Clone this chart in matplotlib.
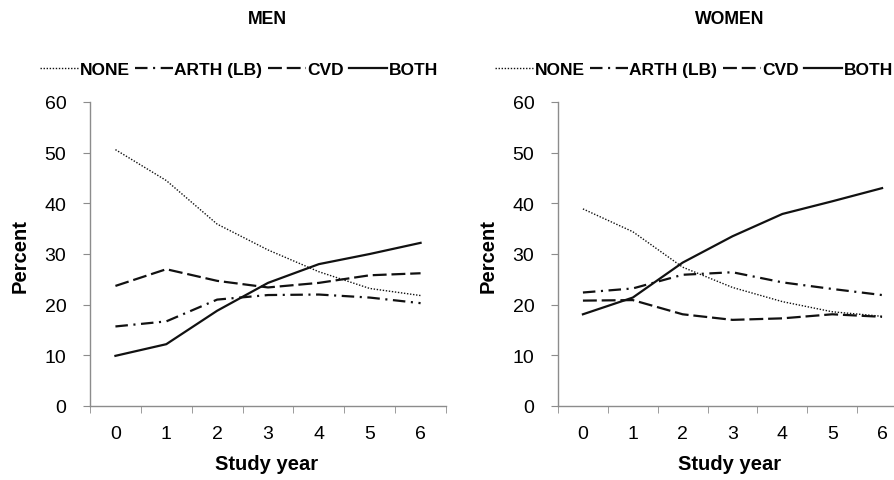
import numpy as np
import matplotlib
matplotlib.use("Agg")
import matplotlib.pyplot as plt

plt.rcParams['font.family'] = ['Liberation Sans', 'DejaVu Sans']
plt.rcParams['lines.scale_dashes'] = False

years = [0, 1, 2, 3, 4, 5, 6]
series_names = ["NONE", "ARTH (LB)", "CVD", "BOTH"]

men_none = [50.6, 44.5, 35.9, 30.8, 26.5, 23.2, 21.8]
men_arth = [15.7, 16.7, 21.0, 21.9, 22.0, 21.4, 20.3]
men_cvd = [23.7, 27.0, 24.7, 23.4, 24.3, 25.8, 26.2]
men_both = [9.9, 12.2, 18.8, 24.3, 28.0, 30.0, 32.2]

women_none = [38.9, 34.4, 27.4, 23.4, 20.6, 18.6, 17.7]
women_arth = [22.4, 23.2, 25.9, 26.4, 24.4, 23.1, 21.9]
women_cvd = [20.8, 20.9, 18.1, 17.0, 17.3, 18.1, 17.6]
women_both = [18.1, 21.4, 28.3, 33.5, 37.9, 40.4, 43.0]

styles = [
    dict(linestyle=(0, (1.0, 1.2)), linewidth=1.0),
    dict(linestyle=(0, (9, 4, 1.5, 4)), linewidth=1.6),
    dict(linestyle=(0, (10, 3.5)), linewidth=1.6),
    dict(linestyle='-', linewidth=1.6),
]
line_color = '#111111'
axis_gray = '#8c8c8c'

fig = plt.figure(figsize=(8.95, 4.81), dpi=100)
W, H = 895.0, 481.0
ax_men = fig.add_axes([90 / W, (H - 407) / H, 356 / W, 304 / H])
ax_women = fig.add_axes([558 / W, (H - 407) / H, 349 / W, 304 / H])

panels = [
    (ax_men, "MEN", [men_none, men_arth, men_cvd, men_both], 239, 267),
    (ax_women, "WOMEN", [women_none, women_arth, women_cvd, women_both], 694, 730),
]

for ax, title, data, leg_x, lab_x in panels:
    handles = []
    for vals, st, name in zip(data, styles, series_names):
        h, = ax.plot(years, vals, color=line_color, label=name, **st)
        handles.append(h)
    ax.set_xlim(-0.5, 6.5)
    ax.set_ylim(0, 60)
    ax.set_yticks(range(0, 61, 10))
    # category labels at centres, tick marks at category boundaries
    ax.set_xticks(years)
    ax.set_xticklabels([str(y) for y in years])
    ax.set_xticks(np.arange(-0.5, 7, 1.0), minor=True)
    ax.tick_params(axis='x', which='major', length=0, pad=14, labelsize=14)
    ax.tick_params(axis='x', which='minor', length=5, color=axis_gray, direction='out')
    ax.tick_params(axis='y', length=5, color=axis_gray, pad=12, labelsize=14)
    for s in ['top', 'right']:
        ax.spines[s].set_visible(False)
    for s in ['left', 'bottom']:
        ax.spines[s].set_color(axis_gray)
        ax.spines[s].set_linewidth(1.0)

    fig.text(lab_x / W, 1 - 20 / H, title, ha='center', va='center',
             fontsize=12.7, fontweight='bold')
    fig.legend(handles=handles, loc='center', bbox_to_anchor=(leg_x / W, 1 - 70 / H),
               ncol=4, frameon=False, handlelength=2.2, handletextpad=0.08,
               columnspacing=0.3, borderpad=0, borderaxespad=0,
               prop={'size': 12.5, 'weight': 'bold'})
    fig.text(lab_x / W, 1 - 465 / H, "Study year", ha='center', va='center',
             fontsize=14.5, fontweight='bold')
    fig.text((ax.get_position().x0 * W - 70) / W, 1 - 256 / H, "Percent",
             ha='center', va='center', rotation=90, fontsize=14.5, fontweight='bold')

fig.savefig("out.png", dpi=100)
